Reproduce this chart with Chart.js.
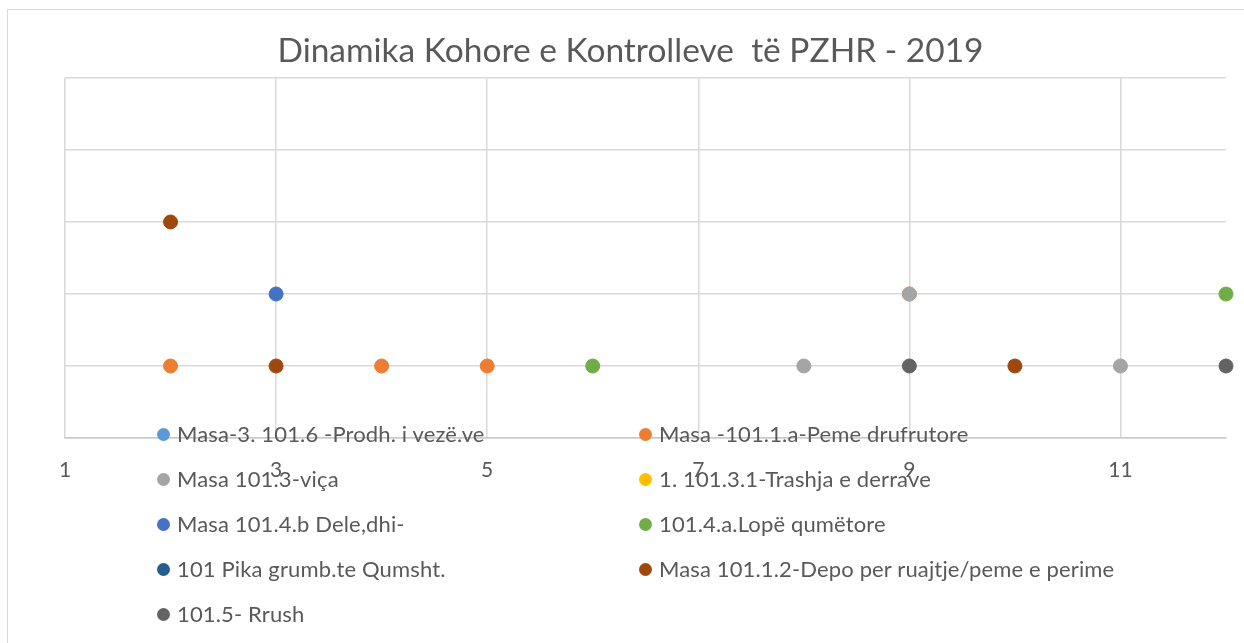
<!DOCTYPE html>
<html><head><meta charset="utf-8">
<script src="https://cdn.jsdelivr.net/npm/chart.js@4"></script>
<style>
html,body{margin:0;padding:0;background:#fff;overflow:hidden;width:1244px;height:643px}
#frame{position:absolute;left:7px;top:9px;width:1260px;height:660px;border:1px solid #d9d9d9;box-sizing:border-box}
#wrap{position:absolute;left:0;top:0;width:1244px;height:643px}
.leg{position:absolute;font-family:Lato,"Open Sans",sans-serif;font-size:22px;letter-spacing:0.14px;color:#595959;white-space:nowrap;height:22px;line-height:22px}
.leg i{position:absolute;left:0;top:4.5px;width:13px;height:13px;border-radius:50%}
.leg b{font-weight:normal;position:absolute;left:20px;top:0}
</style></head>
<body>
<div id="frame"></div>
<div id="wrap"><canvas id="c" width="1244" height="643"></canvas></div>
<div id="legend"></div>
<script>
// ---- data ----
const title = "Dinamika Kohore e Kontrolleve  të PZHR - 2019";
const xTicks = [1, 3, 5, 7, 9, 11];
const seriesNames = [
  "Masa-3. 101.6 -Prodh. i vezë.ve",
  "Masa -101.1.a-Peme drufrutore",
  "Masa 101.3-viça",
  "1. 101.3.1-Trashja e derrave",
  "Masa 101.4.b Dele,dhi-",
  "101.4.a.Lopë qumëtore",
  "101 Pika grumb.te Qumsht.",
  "Masa 101.1.2-Depo per ruajtje/peme e perime",
  "101.5- Rrush"
];
const masa3Veze      = [];
const pemeDrufrutore = [{x:2,y:1},{x:4,y:1},{x:5,y:1},{x:9,y:2}];
const vica           = [{x:8,y:1},{x:9,y:2},{x:11,y:1}];
const trashjaDerrave = [];
const deleDhi        = [{x:3,y:2}];
const lopeQumetore   = [{x:6,y:1},{x:12,y:2}];
const pikaQumesht    = [];
const depoRuajtje    = [{x:2,y:3},{x:3,y:1},{x:10,y:1}];
const rrush          = [{x:9,y:1},{x:12,y:1}];
const seriesData = [masa3Veze, pemeDrufrutore, vica, trashjaDerrave, deleDhi, lopeQumetore, pikaQumesht, depoRuajtje, rrush];

// ---- styles ----
const colors = ["#5B9BD5","#ED7D31","#A5A5A5","#FFC000","#4472C4","#70AD47","#255E91","#9E480E","#636363"];
const txt = "#595959";
const FONT = "Lato";

const datasets = seriesNames.map((n, i) => ({
  label: n,
  data: seriesData[i],
  backgroundColor: colors[i],
  borderColor: colors[i],
  pointRadius: 7,
  pointHoverRadius: 7,
  borderWidth: 1,
  clip: false,
  order: seriesNames.length - 1 - i
}));

new Chart(document.getElementById('c'), {
  type: 'scatter',
  data: { datasets },
  options: {
    responsive: false,
    animation: false,
    layout: { padding: { left: 35, right: 18, top: 0, bottom: 0 } },
    plugins: {
      legend: { display: false },
      tooltip: { enabled: false },
      title: {
        display: true, text: title, color: txt,
        font: { family: FONT, size: 33.5, weight: 'normal' },
        padding: { top: 31, bottom: 6.8 }
      }
    },
    scales: {
      x: {
        type: 'linear', min: 1, max: 12,
        afterBuildTicks: s => { s.ticks = xTicks.map(v => ({ value: v })); },
        afterFit: s => { s.height = 205; },
        grid: { color: '#d9d9d9', drawTicks: false, lineWidth: 1.5 },
        border: { display: true, color: '#c8c8c8', width: 1.5 },
        ticks: { color: txt, font: { family: FONT, size: 21 }, padding: 20, maxRotation: 0 }
      },
      y: {
        min: 0, max: 5,
        afterFit: s => { s.width = 30; },
        ticks: { display: false, stepSize: 1 },
        grid: { color: '#d9d9d9', drawTicks: false, lineWidth: 1.5 },
        border: { display: false }
      }
    }
  }
});

// ---- legend (HTML, overlapping the axis as in the original) ----
const legEl = document.getElementById('legend');
const colX = [157, 639];
const rowY = [423, 468, 513, 558, 603];
seriesNames.forEach((n, i) => {
  const d = document.createElement('div');
  d.className = 'leg';
  d.style.left = colX[i % 2] + 'px';
  d.style.top = rowY[Math.floor(i / 2)] + 'px';
  d.innerHTML = '<i style="background:' + colors[i] + '"></i><b></b>';
  d.querySelector('b').textContent = n;
  legEl.appendChild(d);
});
</script>
</body></html>
